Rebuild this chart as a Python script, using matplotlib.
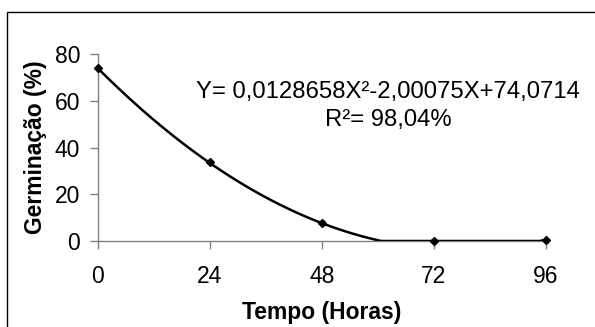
import numpy as np
import matplotlib
matplotlib.use("Agg")
import matplotlib.pyplot as plt
from matplotlib.patches import Rectangle

plt.rcParams['font.family'] = ['Liberation Sans', 'DejaVu Sans']

# Data
hours = [0, 24, 48, 72, 96]
germination = [74.0, 33.8, 7.6, 0.0, 0.4]
x_ticks = [0, 24, 48, 72, 96]
y_ticks = [0, 20, 40, 60, 80]
coef_a, coef_b, coef_c = 0.0128658, -2.00075, 74.0714
equation_text = "Y= 0,0128658X²-2,00075X+74,0714\nR²= 98,04%"

fig = plt.figure(figsize=(5.95, 3.27), dpi=100)
ax = fig.add_axes([97.7/595, 86/327, 448/595, 186.7/327])

# fitted trendline (clipped at axis minimum like the original)
xf = np.linspace(0, 96, 300)
yf = coef_a * xf**2 + coef_b * xf + coef_c
yf = np.clip(yf, 0, None)
ax.plot(xf, yf, color='black', lw=1.8, zorder=3)
ax.plot(hours, germination, linestyle='none', marker='D', markersize=4.5,
        color='black', zorder=4, clip_on=False)

ax.set_xlim(0, 96)
ax.set_ylim(0, 80)
ax.set_xticks(x_ticks)
ax.set_yticks(y_ticks)
for s in ['top', 'right']:
    ax.spines[s].set_visible(False)
for s in ['left', 'bottom']:
    ax.spines[s].set_color('#808080')
    ax.spines[s].set_linewidth(1.0)
ax.tick_params(axis='both', direction='out', length=5.5, width=1.0,
               color='#808080', labelsize=16.5)
ax.tick_params(axis='x', pad=12)
ax.tick_params(axis='y', pad=7)

ax.set_xlabel('Tempo (Horas)', fontsize=16.5, fontweight='bold', labelpad=9)
ax.set_ylabel('Germinação (%)', fontsize=16.5, fontweight='bold', labelpad=6)

fig.text(388/595, 1 - 106/327, equation_text, ha='center', va='center',
         fontsize=17.2, linespacing=1.3, multialignment='center')

fig.patches.append(Rectangle((7/595, -0.05), 1.1, (327-12)/327 + 0.05,
                             transform=fig.transFigure, fill=False,
                             edgecolor='black', lw=1.0))

fig.savefig('out.png', dpi=100)
